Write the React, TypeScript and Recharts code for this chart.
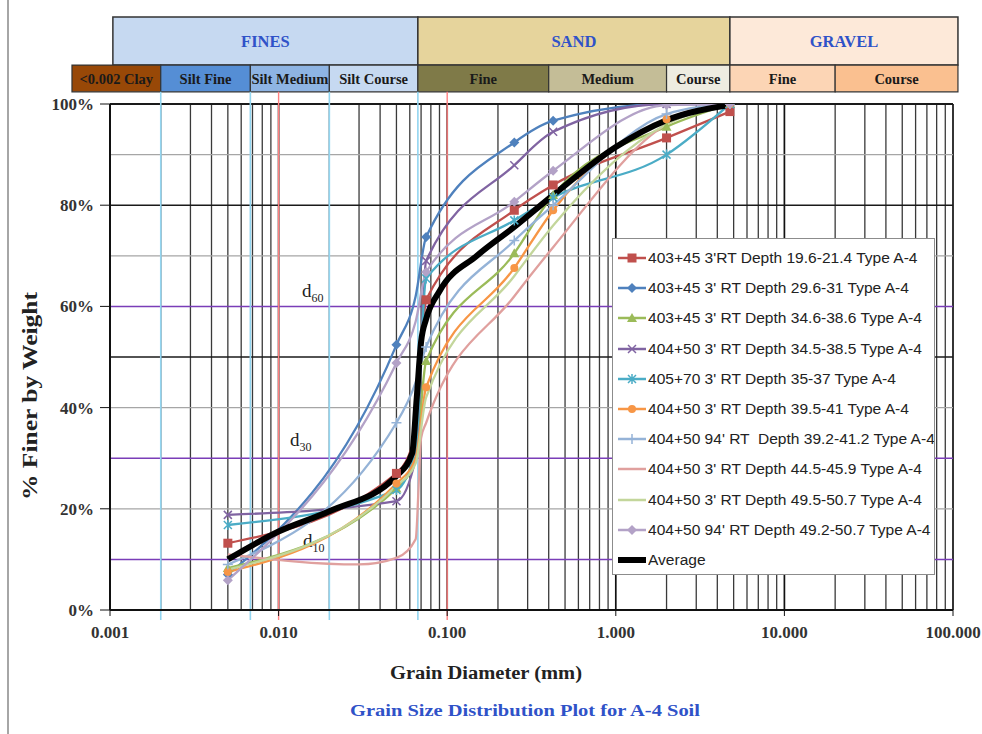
import React from "react";
import { LineChart, Line, XAxis, YAxis, ReferenceLine, ReferenceArea, Legend } from "recharts";

// sieve / hydrometer diameters (mm)
const DIAM = [0.005, 0.05, 0.065, 0.075, 0.25, 0.425, 2, 4.75];
const MARKED = [0.005, 0.05, 0.075, 0.25, 0.425, 2, 4.75];

const red = [13.2, 27, 35, 61.3, 79, 84, 93.3, 98.5];
const blue = [7, 52.4, 62, 73.7, 92.4, 96.7, 100, 100];
const green = [8.3, 24, 30, 49.2, 70.5, 82, 95.5, 100];
const purple = [18.8, 21.5, 30, 69, 87.9, 94.5, 100, 100];
const cyan = [16.8, 23.7, 32, 65.5, 77, 81.5, 90, 100];
const orange = [7.5, 25, 30, 44, 67.6, 79, 97, 100];
const lightBlue = [9, 37, 45, 52, 73, 80, 98, 100];
const lightGreen = [8, 24.5, 29, 42, 66, 76, 96, 100];
const lavender = [5.9, 48.8, 57, 66.8, 80.7, 86.8, 99.8, 100];

const PINK_DIAM = [0.005, 0.03, 0.05, 0.065, 0.07, 0.075, 0.25, 0.425, 2, 4.75];
const pink = [11, 9, 10.3, 14, 34, 37, 62, 71.7, 96, 100];

const AVG_DIAM = [0.005, 0.01, 0.02, 0.05, 0.062, 0.066, 0.07, 0.075, 0.09, 0.15, 0.25, 0.425, 1, 2, 4.75];
const average = [10, 15.5, 19.5, 26.5, 31, 42, 53, 57.5, 63, 70, 75.7, 82, 91.5, 96.8, 99.8];

const X_TICKS = [0.001, 0.01, 0.1, 1, 10, 100];
const Y_TICKS = [0, 20, 40, 60, 80, 100];
const MULTS = [2, 3, 4, 5, 6, 7, 8, 9];

// classification bands (mm)
const TOP_BANDS = [
  { label: "FINES", from: 0.00104, to: 0.067, fill: "#C6D9F1" },
  { label: "SAND", from: 0.067, to: 4.75, fill: "#E6D49C" },
  { label: "GRAVEL", from: 4.75, to: 107, fill: "#FDE9D9" },
];
const SUB_BANDS = [
  { label: "<0.002 Clay", from: 0.000595, to: 0.002, fill: "#984807" },
  { label: "Silt Fine", from: 0.002, to: 0.0068, fill: "#558ED5" },
  { label: "Silt Medium", from: 0.0068, to: 0.02, fill: "#8EB4E3" },
  { label: "Silt Course", from: 0.02, to: 0.067, fill: "#C6D9F1" },
  { label: "Fine", from: 0.067, to: 0.4, fill: "#7F7A48" },
  { label: "Medium", from: 0.4, to: 2, fill: "#C4BD97" },
  { label: "Course", from: 2, to: 4.75, fill: "#EEECE1" },
  { label: "Fine", from: 4.75, to: 20, fill: "#FCD5B5" },
  { label: "Course", from: 20, to: 107, fill: "#FAC090" },
];
const SILT_LINES = [0.002, 0.0068, 0.02, 0.067];
const RED_LINES = [0.01, 0.1];

const SERIF = "'Liberation Serif', 'Times New Roman', serif";
const SANS = "'Liberation Sans', Arial, sans-serif";

const series = [
  { name: "403+45 3'RT Depth 19.6-21.4 Type A-4", color: "#C0504D", shape: "square", x: DIAM, y: red },
  { name: "403+45 3' RT Depth 29.6-31 Type A-4", color: "#4F81BD", shape: "diamond", x: DIAM, y: blue },
  { name: "403+45 3' RT Depth 34.6-38.6 Type A-4", color: "#9BBB59", shape: "triangle", x: DIAM, y: green },
  { name: "404+50 3' RT Depth 34.5-38.5 Type A-4", color: "#8064A2", shape: "x", x: DIAM, y: purple },
  { name: "405+70 3' RT Depth 35-37 Type A-4", color: "#4BACC6", shape: "star", x: DIAM, y: cyan },
  { name: "404+50 3' RT Depth 39.5-41 Type A-4", color: "#F79646", shape: "circle", x: DIAM, y: orange },
  { name: "404+50 94' RT  Depth 39.2-41.2 Type A-4", color: "#95B3D7", shape: "plus", x: DIAM, y: lightBlue },
  { name: "404+50 3' RT Depth 44.5-45.9 Type A-4", color: "#E0A09E", shape: "none", x: PINK_DIAM, y: pink },
  { name: "404+50 3' RT Depth 49.5-50.7 Type A-4", color: "#C3D69B", shape: "none", x: DIAM, y: lightGreen },
  { name: "404+50 94' RT Depth 49.2-50.7 Type A-4", color: "#B3A2C7", shape: "diamond", x: DIAM, y: lavender },
  { name: "Average", color: "#000000", shape: "none", x: AVG_DIAM, y: average, width: 6 },
];

const Marker = ({ shape, cx, cy, color }: any) => {
  switch (shape) {
    case "square":
      return <rect x={cx - 4.5} y={cy - 4.5} width={9} height={9} fill={color} />;
    case "diamond":
      return <polygon points={`${cx},${cy - 5} ${cx + 5},${cy} ${cx},${cy + 5} ${cx - 5},${cy}`} fill={color} />;
    case "triangle":
      return <polygon points={`${cx},${cy - 5} ${cx + 5},${cy + 4} ${cx - 5},${cy + 4}`} fill={color} />;
    case "circle":
      return <circle cx={cx} cy={cy} r={4} fill={color} />;
    case "x":
      return <path d={`M${cx - 4},${cy - 4}L${cx + 4},${cy + 4}M${cx - 4},${cy + 4}L${cx + 4},${cy - 4}`} stroke={color} strokeWidth={1.5} />;
    case "star":
      return <path d={`M${cx - 4},${cy - 4}L${cx + 4},${cy + 4}M${cx - 4},${cy + 4}L${cx + 4},${cy - 4}M${cx},${cy - 5}L${cx},${cy + 5}`} stroke={color} strokeWidth={1.5} />;
    case "plus":
      return <path d={`M${cx - 5},${cy}L${cx + 5},${cy}M${cx},${cy - 5}L${cx},${cy + 5}`} stroke={color} strokeWidth={1.5} />;
  }
  return null;
};

const LegendBox = () => (
  <div style={{ width: 323, height: 337, boxSizing: "border-box", border: "1px solid #8c8c8c", background: "#fff", paddingTop: 4, paddingLeft: 4, overflow: "hidden" }}>
    {series.map((s) => (
      <div key={s.name} style={{ height: 30.2, display: "flex", alignItems: "center" }}>
        <svg width={30} height={12} style={{ flex: "none" }}>
          <line x1={1} y1={6} x2={29} y2={6} stroke={s.color} strokeWidth={s.width ? 6 : 2.5} />
          <Marker shape={s.shape} cx={15} cy={6} color={s.color} />
        </svg>
        <span style={{ fontFamily: SANS, fontSize: 14, color: "#222", whiteSpace: "pre", marginLeft: 1, display: "inline-block", transform: "scaleX(1.11)", transformOrigin: "left center" }}>{s.name}</span>
      </div>
    ))}
  </div>
);

const dLabel = (sub: string, dx: number, dy: number) => (props: any) => {
  const { viewBox } = props;
  return (
    <text x={viewBox.x + dx} y={viewBox.y + dy} fontFamily={SERIF} fontSize={19} fill="#222">
      d<tspan dy={5} fontSize={12}>{sub}</tspan>
    </text>
  );
};

const XTitles = () => (
  <g fontFamily={SERIF} fontWeight={700}>
    <text x={390} y={679} fontSize={18} fill="#222" textLength={192} lengthAdjust="spacingAndGlyphs">Grain Diameter (mm)</text>
    <text x={350} y={716} fontSize={17} fill="#2F52C8" textLength={350} lengthAdjust="spacingAndGlyphs">Grain Size Distribution Plot for A-4 Soil</text>
  </g>
);

const YTitle = () => (
  <text x={292} y={30} transform="rotate(-90, 396, 396)" dominantBaseline="central"
    fontFamily={SERIF} fontWeight={700} fontSize={20} fill="#222" textLength={208} lengthAdjust="spacingAndGlyphs">% Finer by Weight</text>
);

export default function App() {
  const tickStyle = { fontFamily: SERIF, fontWeight: 700, fontSize: 17, fill: "#333" };
  return (
    <div style={{ position: "absolute", left: 0, top: 0, width: 982, height: 734, background: "#fff" }}>
      <div style={{ position: "absolute", left: 7, top: 0, width: 2, height: 734, background: "#a6a6a6" }} />
      <LineChart width={982} height={734} margin={{ top: 104, right: 29, left: 0, bottom: 0 }}>
        <XAxis dataKey="d" type="number" scale="log" domain={[0.001, 100]} allowDataOverflow ticks={X_TICKS}
          interval={0} tickFormatter={(v: number) => v.toFixed(3)} height={124} tickSize={6} tickMargin={10}
          tick={tickStyle} axisLine={{ stroke: "#111", strokeWidth: 2 }} tickLine={{ stroke: "#111" }}
          label={{ content: XTitles }} />
        <YAxis type="number" domain={[0, 100]} allowDataOverflow ticks={Y_TICKS} interval={0}
          tickFormatter={(v: number) => `${v}%`} width={110} tickSize={10} tickMargin={6}
          tick={tickStyle} axisLine={{ stroke: "#111", strokeWidth: 2 }} tickLine={{ stroke: "#111" }}
          label={{ content: YTitle }} />

        {X_TICKS.slice(0, -1).flatMap((dec) =>
          MULTS.map((m) => (
            <ReferenceLine key={`vm-${dec}-${m}`} x={dec * m} stroke="#3a3a3a" strokeWidth={1.3} />
          ))
        )}
        {X_TICKS.map((dec) => (
          <ReferenceLine key={`vM-${dec}`} x={dec} stroke="#111" strokeWidth={1.7} />
        ))}
        {[20, 40, 70, 90].map((v) => (
          <ReferenceLine key={`hg-${v}`} y={v} stroke="#a6a6a6" strokeWidth={1.2} />
        ))}
        {[50, 80].map((v) => (
          <ReferenceLine key={`hb-${v}`} y={v} stroke="#1a1a1a" strokeWidth={1.4} />
        ))}
        <ReferenceLine y={100} stroke="#1a1a1a" strokeWidth={2} />
        <ReferenceLine y={60} stroke="#7A3DB8" strokeWidth={1.5} label={{ content: dLabel("60", 192, -9) }} />
        <ReferenceLine y={30} stroke="#7A3DB8" strokeWidth={1.5} label={{ content: dLabel("30", 180, -12) }} />
        <ReferenceLine y={10} stroke="#7A3DB8" strokeWidth={1.5} label={{ content: dLabel("10", 193, -12) }} />
        {SILT_LINES.map((v) => (
          <ReferenceLine key={`sl-${v}`} segment={[{ x: v, y: -2 }, { x: v, y: 102.4 }]} ifOverflow="visible" stroke="#92D5F0" strokeWidth={1.6} />
        ))}
        {RED_LINES.map((v) => (
          <ReferenceLine key={`rl-${v}`} segment={[{ x: v, y: -2 }, { x: v, y: 102.4 }]} ifOverflow="visible" stroke="#FF8080" strokeWidth={1.4} />
        ))}

        {TOP_BANDS.map((b) => (
          <ReferenceArea key={`tb-${b.label}`} x1={b.from} x2={b.to} y1={107.7} y2={117.2} ifOverflow="visible"
            fill={b.fill} fillOpacity={1} stroke="#333" strokeWidth={1.5}
            label={{ value: b.label, position: "center", fill: "#2F52C8", fontSize: 16.5, fontWeight: 700, fontFamily: SERIF }} />
        ))}
        {SUB_BANDS.map((b) => (
          <ReferenceArea key={`sb-${b.from}`} x1={b.from} x2={b.to} y1={102.4} y2={107.7} ifOverflow="visible"
            fill={b.fill} fillOpacity={1} stroke="#333" strokeWidth={1.2}
            label={{ value: b.label, position: "center", fill: "#1a1a1a", fontSize: 14.5, fontWeight: 700, fontFamily: SERIF }} />
        ))}

        {series.map((s) => (
          <Line key={s.name} name={s.name} data={s.x.map((d, i) => ({ d, v: s.y[i] }))} dataKey="v"
            type="monotone" stroke={s.color} strokeWidth={s.width ?? 2.3} activeDot={false}
            isAnimationActive={false}
            dot={(p: any) => {
              const k = `${s.name}-${p.index}`;
              if (s.shape === "none" || !MARKED.includes(p.payload.d)) return <g key={k} />;
              return <g key={k}><Marker shape={s.shape} cx={p.cx} cy={p.cy} color={s.color} /></g>;
            }} />
        ))}

        <Legend layout="vertical" align="center" verticalAlign="middle"
          wrapperStyle={{ left: 612, top: 238, width: 323, height: 337 }} content={() => <LegendBox />} />
      </LineChart>
    </div>
  );
}
